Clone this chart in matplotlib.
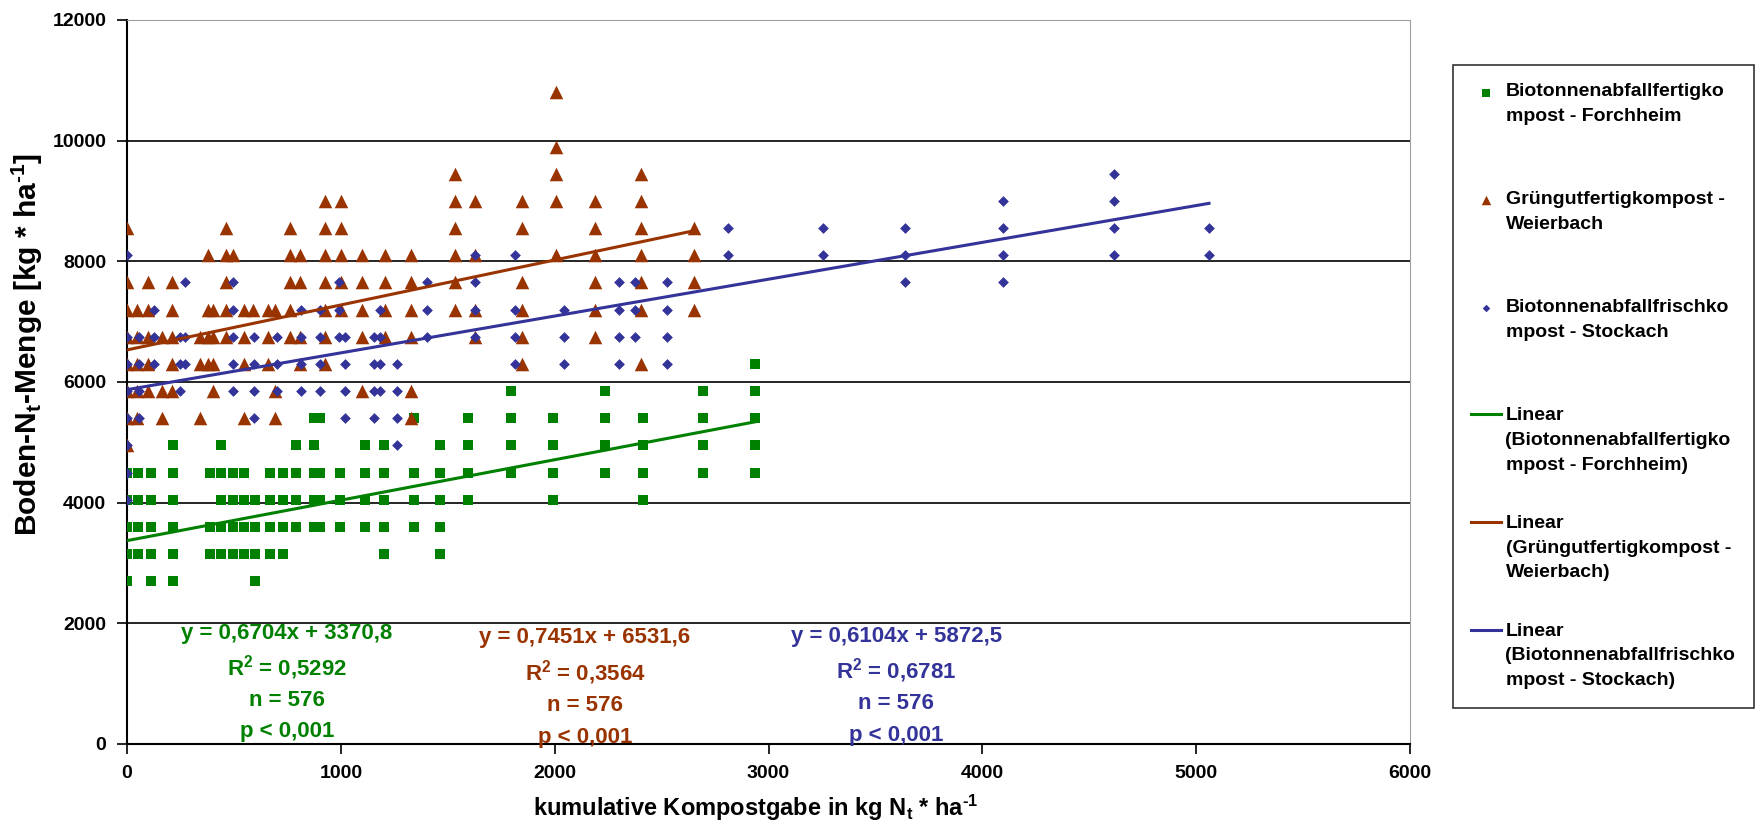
import matplotlib
matplotlib.use("Agg")
import matplotlib.pyplot as plt
from matplotlib.lines import Line2D
import numpy as np

plt.rcParams['font.family'] = ['Liberation Sans', 'DejaVu Sans']
plt.rcParams['font.weight'] = 'bold'
plt.rcParams['mathtext.fontset'] = 'custom'
plt.rcParams['mathtext.rm'] = 'Liberation Sans:bold'
plt.rcParams['mathtext.bf'] = 'Liberation Sans:bold'
plt.rcParams['mathtext.default'] = 'bf'

# Forchheim (Biotonnenabfallfertigkompost): x columns and the N values stacked on each
forch_x = [0, 53, 111, 217, 390, 440, 495, 545, 600, 670, 729, 792, 873, 904, 998,
           1115, 1204, 1341, 1463, 1594, 1794, 1994, 2236, 2414, 2692, 2938]
forch_y = [[4500, 4050, 3600, 3150, 2700], [4500, 4050, 3600, 3150],
           [4500, 4050, 3600, 3150, 2700], [4950, 4500, 4050, 3600, 3150, 2700],
           [4500, 3600, 3150], [4950, 4500, 4050, 3600, 3150], [4500, 4050, 3600, 3150],
           [4500, 4050, 3600, 3150], [4050, 3600, 3150, 2700], [4500, 4050, 3600, 3150],
           [4500, 4050, 3600, 3150], [4950, 4500, 4050, 3600], [5400, 4950, 4500, 4050, 3600],
           [5400, 4500, 4050, 3600], [4500, 4050, 3600], [4950, 4500, 4050, 3600],
           [4950, 4500, 4050, 3600, 3150], [5400, 4500, 4050, 3600],
           [4950, 4500, 4050, 3600, 3150], [5400, 4950, 4500, 4050], [5850, 5400, 4950, 4500],
           [5400, 4950, 4500, 4050], [5850, 5400, 4950, 4500], [5400, 4950, 4500, 4050],
           [5850, 5400, 4950, 4500], [6300, 5850, 5400, 4950, 4500]]

# Weierbach (Gruengutfertigkompost)
weier_x = [0, 48, 100, 162, 209, 342, 379, 403, 464, 498, 545, 590, 660, 692, 763, 810,
           927, 1000, 1098, 1207, 1326, 1532, 1627, 1849, 2008, 2187, 2405, 2651]
weier_y = [[8550, 7650, 7200, 6750, 6300, 5850, 5400, 4950], [7200, 6750, 6300, 5850, 5400],
           [7650, 7200, 6750, 6300, 5850], [6750, 5850, 5400], [7650, 7200, 6750, 6300, 5850],
           [6750, 6300, 5400], [8100, 7200, 6750, 6300], [7200, 6750, 6300, 5850],
           [8550, 8100, 7650, 7200, 6750], [8100], [7200, 6750, 6300, 5400], [7200],
           [7200, 6750, 6300], [7200, 5850, 5400], [8550, 8100, 7650, 7200, 6750],
           [8100, 7650, 6750, 6300], [9000, 8550, 8100, 7650, 7200, 6750, 6300],
           [9000, 8550, 8100, 7650, 7200], [8100, 7650, 7200, 6750, 5850],
           [8100, 7650, 7200, 6750], [8100, 7650, 7200, 6750, 5850, 5400],
           [9450, 9000, 8550, 8100, 7650, 7200], [9000, 8100, 7200, 6750],
           [9000, 8550, 7650, 7200, 6750, 6300], [10800, 9900, 9450, 9000, 8100],
           [9000, 8550, 8100, 7650, 7200, 6750], [9450, 9000, 8550, 8100, 7650, 7200, 6300],
           [8550, 8100, 7650, 7200]]

# Stockach (Biotonnenabfallfrischkompost)
stock_x = [0, 57, 126, 247, 270, 498, 592, 700, 813, 904, 990, 1021, 1153, 1185, 1263,
           1404, 1627, 1814, 2044, 2301, 2376, 2523, 2812, 3254, 3638, 4095, 4618, 5060]
stock_y = [[8100, 6750, 6300, 5850, 5400, 4950, 4500, 4050], [6750, 6300, 5850, 5400],
           [7200, 6750, 6300], [6750, 6300, 5850], [7650, 6750, 6300],
           [7650, 7200, 6750, 6300, 5850], [6750, 6300, 5850, 5400], [6750, 6300, 5850],
           [7200, 6750, 6300, 5850], [7200, 6750, 6300, 5850], [7650, 7200, 6750],
           [6750, 6300, 5850, 5400], [6750, 6300, 5850, 5400], [7200, 6750, 6300, 5850],
           [6300, 5850, 5400, 4950], [7650, 7200, 6750], [8100, 7650, 7200, 6750],
           [8100, 7200, 6750, 6300], [7200, 6750, 6300], [7650, 7200, 6750, 6300],
           [7650, 7200, 6750], [7650, 7200, 6750, 6300], [8550, 8100], [8550, 8100],
           [8550, 8100, 7650], [9000, 8550, 8100, 7650], [9450, 9000, 8550, 8100], [8550, 8100]]

# trendline coefficients as printed in the chart
slopes = [0.6704, 0.7451, 0.6104]
intercepts = [3370.8, 6531.6, 5872.5]
r2 = ["0,5292", "0,3564", "0,6781"]
eq_text = ["y = 0,6704x + 3370,8", "y = 0,7451x + 6531,6", "y = 0,6104x + 5872,5"]
n_obs = 576

green, brown, blue = '#008000', '#993300', '#333399'
colors = [green, brown, blue]


def expand(xs, ys):
    px, py = [], []
    for x, col in zip(xs, ys):
        for v in col:
            px.append(x)
            py.append(v)
    return np.array(px), np.array(py)


fig = plt.figure(figsize=(17.57, 8.31), dpi=100)
ax = fig.add_axes([127/1757, 1-744/831, (1410-127)/1757, (744-20)/831])

gx, gy = expand(forch_x, forch_y)
wx, wy = expand(weier_x, weier_y)
sx, sy = expand(stock_x, stock_y)

h1 = ax.scatter(gx, gy, marker='s', s=55, color=green, linewidths=0, zorder=3)
h2 = ax.scatter(wx, wy, marker='^', s=95, color=brown, linewidths=0, zorder=3)
h3 = ax.scatter(sx, sy, marker='D', s=30, color=blue, linewidths=0, zorder=3)

lines = []
for xs, m, b, c in zip([forch_x, weier_x, stock_x], slopes, intercepts, colors):
    xx = np.array([0, max(xs)])
    ln, = ax.plot(xx, m*xx + b, color=c, lw=2.2, zorder=4)
    lines.append(ln)

ax.set_xlim(0, 6000)
ax.set_ylim(0, 12000)
ax.set_xticks(range(0, 6001, 1000))
ax.set_yticks(range(0, 12001, 2000))
for v in range(2000, 12000, 2000):
    ax.axhline(v, color='black', lw=1.2, zorder=1)
ax.spines['top'].set_color('#a0a0a0')
ax.spines['right'].set_color('#a0a0a0')
ax.spines['left'].set_linewidth(1.5)
ax.spines['bottom'].set_linewidth(1.5)
ax.tick_params(axis='both', direction='out', length=7, width=1.2, labelsize=14, pad=8)
for lab in ax.get_xticklabels() + ax.get_yticklabels():
    lab.set_fontweight('bold')

ax.set_xlabel('kumulative Kompostgabe in kg N$_{t}$ * ha$^{\u20101}$', fontsize=17,
              fontweight='bold', labelpad=8, x=0.49)
ax.set_ylabel('Boden-N$_{t}$-Menge [kg * ha$^{\u20101}$]', fontsize=21.5,
              fontweight='bold', labelpad=5, y=0.5525)

# regression annotations
centers = [748, 2142, 3597]
ypos = [[1839, 1259, 729, 199], [1773, 1176, 646, 116], [1790, 1210, 679, 149]]
for i in range(3):
    txt = [eq_text[i], r'R$^{2}$ = ' + r2[i], 'n = %d' % n_obs, 'p < 0,001']
    for t, yv in zip(txt, ypos[i]):
        ax.text(centers[i], yv, t, color=colors[i], fontsize=16, fontweight='bold',
                ha='center', va='center', zorder=5)

# every legend entry is three lines tall so the entries sit evenly apart
labels = ["Biotonnenabfallfertigko\nmpost - Forchheim\n ",
          "Grüngutfertigkompost -\nWeierbach\n ",
          "Biotonnenabfallfrischko\nmpost - Stockach\n ",
          "Linear\n(Biotonnenabfallfertigko\nmpost - Forchheim)",
          "Linear\n(Grüngutfertigkompost -\nWeierbach)",
          "Linear\n(Biotonnenabfallfrischko\nmpost - Stockach)"]
leg = fig.legend([h1, h2, h3] + lines, labels, loc='upper left',
                 bbox_to_anchor=(1453/1757, 1-65/831), frameon=True, fancybox=False,
                 edgecolor='black', prop={'size': 14, 'weight': 'bold'},
                 labelspacing=2.12, handlelength=1.5, handletextpad=0.25,
                 borderpad=0.95, markerscale=0.7, borderaxespad=0)
leg.get_frame().set_linewidth(1.2)
for t in leg.get_texts():
    t.set_linespacing(1.6)

# move the swatches up to the first text line of each entry
line_pt = 18.4
for h in leg.legend_handles:
    if isinstance(h, Line2D):
        h.set_ydata(np.asarray(h.get_ydata()) + line_pt)
    else:
        h.set_offsets(np.asarray(h.get_offsets()) + [0, line_pt])

fig.savefig("out.png", dpi=100)
